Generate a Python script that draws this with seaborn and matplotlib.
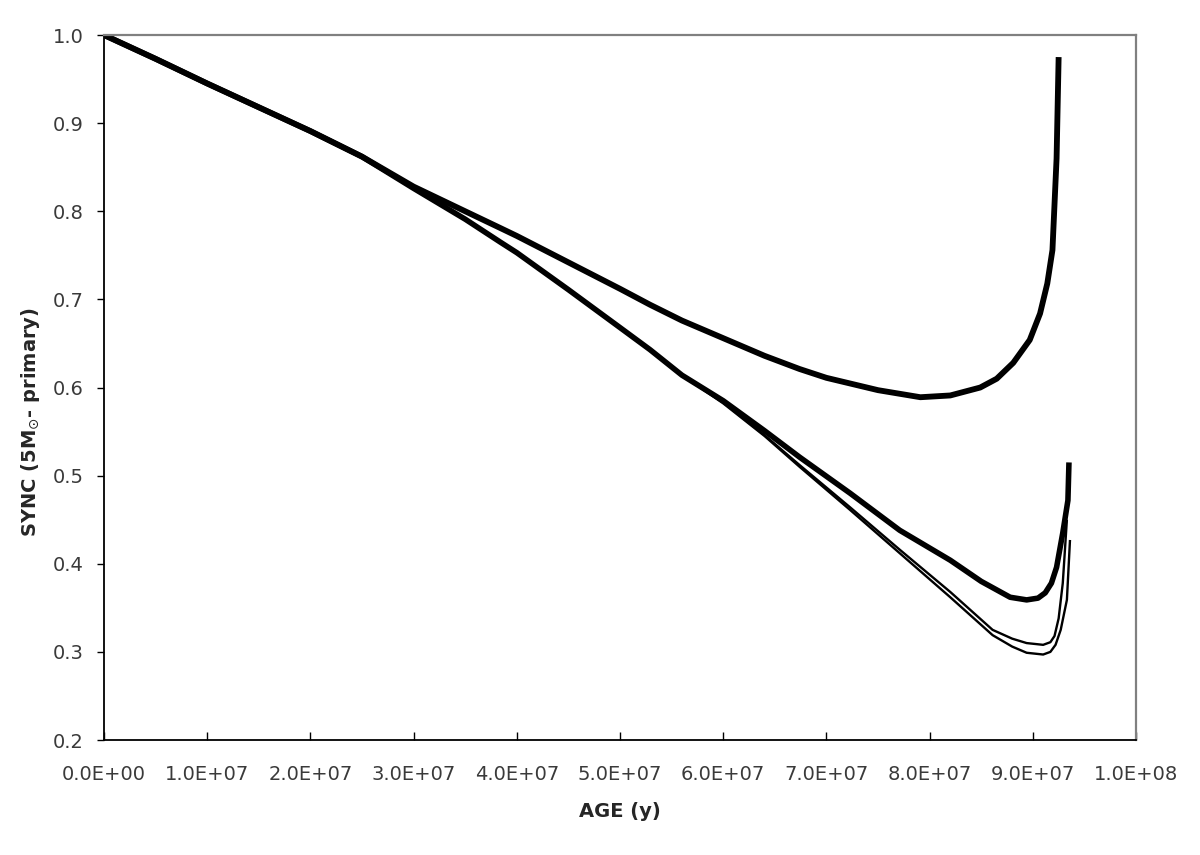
import matplotlib
matplotlib.use("Agg")
import matplotlib.pyplot as plt
import matplotlib.ticker as mticker
import seaborn as sns
import pandas as pd

# Series A (upper thick curve)
age_a = [0, 0.5e7, 1e7, 1.5e7, 2e7, 2.5e7, 3e7, 3.5e7, 3.84e7, 4e7, 4.5e7, 5e7, 5.29e7, 5.6e7, 6e7,
         6.4e7, 6.74e7, 7e7, 7.5e7, 7.91e7, 8.2e7, 8.49e7, 8.65e7, 8.81e7, 8.97e7, 9.07e7, 9.14e7,
         9.19e7, 9.23e7, 9.25e7]
sync_a = [1.0, 0.973, 0.945, 0.918, 0.891, 0.862, 0.828, 0.800, 0.781, 0.772, 0.742, 0.712, 0.694,
          0.676, 0.656, 0.636, 0.621, 0.611, 0.597, 0.589, 0.591, 0.600, 0.610, 0.628, 0.654,
          0.684, 0.718, 0.756, 0.86, 0.975]

# Series B (lower thick curve)
age_b = [0, 0.5e7, 1e7, 1.5e7, 2e7, 2.5e7, 3e7, 3.5e7, 3.84e7, 4e7, 4.5e7, 5e7, 5.29e7, 5.6e7, 6e7,
         6.4e7, 6.74e7, 7.23e7, 7.71e7, 8.2e7, 8.5e7, 8.78e7, 8.94e7, 9.05e7, 9.12e7, 9.18e7,
         9.23e7, 9.29e7, 9.34e7, 9.35e7]
sync_b = [1.0, 0.973, 0.945, 0.918, 0.891, 0.862, 0.826, 0.791, 0.765, 0.753, 0.711, 0.668, 0.643,
          0.614, 0.585, 0.551, 0.521, 0.480, 0.438, 0.404, 0.380, 0.362, 0.359, 0.361, 0.367,
          0.378, 0.396, 0.435, 0.472, 0.515]

# Series C (upper thin curve)
age_c = [0, 0.5e7, 1e7, 1.5e7, 2e7, 2.5e7, 3e7, 3.5e7, 3.84e7, 4e7, 4.5e7, 5e7, 5.29e7, 5.6e7, 6e7,
         6.4e7, 6.74e7, 7.23e7, 7.71e7, 8.2e7, 8.61e7, 8.8e7, 8.94e7, 9.1e7, 9.17e7, 9.21e7,
         9.25e7, 9.29e7, 9.33e7]
sync_c = [1.0, 0.973, 0.945, 0.918, 0.891, 0.862, 0.826, 0.791, 0.765, 0.753, 0.711, 0.668, 0.643,
          0.614, 0.583, 0.546, 0.512, 0.464, 0.416, 0.368, 0.325, 0.315, 0.310, 0.308, 0.311,
          0.318, 0.338, 0.378, 0.450]

# Series D (lower thin curve)
age_d = [0, 0.5e7, 1e7, 1.5e7, 2e7, 2.5e7, 3e7, 3.5e7, 3.84e7, 4e7, 4.5e7, 5e7, 5.29e7, 5.6e7, 6e7,
         6.4e7, 6.74e7, 7.23e7, 7.71e7, 8.2e7, 8.61e7, 8.8e7, 8.94e7, 9.1e7, 9.17e7, 9.22e7,
         9.27e7, 9.33e7, 9.36e7]
sync_d = [1.0, 0.973, 0.945, 0.918, 0.891, 0.862, 0.826, 0.791, 0.765, 0.753, 0.711, 0.668, 0.643,
          0.614, 0.582, 0.545, 0.510, 0.461, 0.412, 0.362, 0.319, 0.306, 0.299, 0.297, 0.300,
          0.308, 0.325, 0.359, 0.427]

x_ticks = [0, 1e7, 2e7, 3e7, 4e7, 5e7, 6e7, 7e7, 8e7, 9e7, 1e8]
y_ticks = [0.2, 0.3, 0.4, 0.5, 0.6, 0.7, 0.8, 0.9, 1.0]

sns.set_style("white")
plt.rcParams['font.family'] = ['DejaVu Sans']

fig = plt.figure(figsize=(12, 8.55), dpi=100)
ax = fig.add_axes([0.0867, 0.1345, 0.86, 0.8245])

series = [(age_a, sync_a, 4.2), (age_b, sync_b, 4.0), (age_c, sync_c, 1.7), (age_d, sync_d, 1.7)]
for xs, ys, lw in series:
    df = pd.DataFrame({"age": xs, "sync": ys})
    sns.lineplot(data=df, x="age", y="sync", ax=ax, color="black", linewidth=lw,
                 sort=False, estimator=None, solid_joinstyle='round', solid_capstyle='butt')

ax.set_xlim(0, 1e8)
ax.set_ylim(0.2, 1.0)
ax.set_xticks(x_ticks)
ax.set_yticks(y_ticks)
ax.xaxis.set_major_formatter(mticker.FormatStrFormatter('%.1E'))
ax.yaxis.set_major_formatter(mticker.FormatStrFormatter('%.1f'))

ax.tick_params(axis='x', direction='in', length=6, width=1, color='black',
               labelsize=14, pad=18, labelcolor='#3a3a3a')
ax.tick_params(axis='y', direction='out', length=5, width=1, color='black',
               labelsize=14, pad=9.5, labelcolor='#3a3a3a')
ax.tick_params(axis='both', bottom=True, left=True, top=False, right=False)

for side in ['bottom', 'left']:
    ax.spines[side].set_color('black')
    ax.spines[side].set_linewidth(1.3)
for side in ['top', 'right']:
    ax.spines[side].set_color('#808080')
    ax.spines[side].set_linewidth(1.6)
    ax.spines[side].set_visible(True)

ax.set_xlabel('AGE (y)', fontsize=14, fontweight='bold', labelpad=13)
ax.set_ylabel(r'SYNC (5M$_{\odot}$- primary)', fontsize=14, fontweight='bold',
              labelpad=8, y=0.451)

fig.savefig('out.png', dpi=100, facecolor='white')
